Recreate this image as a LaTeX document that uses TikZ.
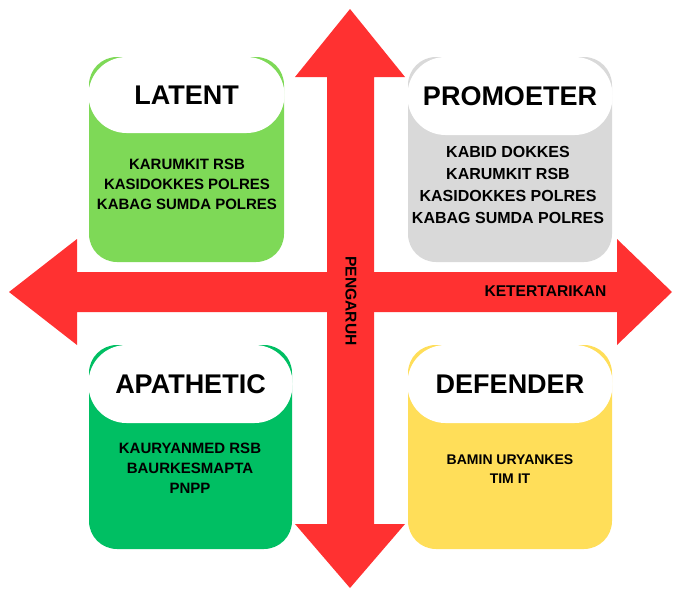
\documentclass[tikz,border=0pt]{standalone}
\usepackage{fontspec}
\setmainfont{Liberation Sans}
\definecolor{arrowred}{HTML}{FF3131}
\definecolor{latentgreen}{HTML}{7ED957}
\definecolor{promogray}{HTML}{D9D9D9}
\definecolor{apathgreen}{HTML}{00BF63}
\definecolor{defyellow}{HTML}{FFDE59}
\tikzset{
  quadbox/.style={rounded corners=28pt, inner sep=0pt, draw=none},
  headbox/.style={fill=white, rounded corners=38pt, inner sep=0pt, draw=none,
    font=\fontsize{27}{30}\selectfont\bfseries},
  bodytext/.style={align=center, inner sep=0pt, font=\fontsize{15}{20}\selectfont\bfseries},
  axislabel/.style={inner sep=0pt, font=\fontsize{15.6}{18}\selectfont\bfseries}
}
\begin{document}
\begin{tikzpicture}[x=1pt, y=-1pt]
\useasboundingbox (0,0) rectangle (673,589);

% double-headed axes
\fill[arrowred] (9,292) -- (77,239) -- (77,272) -- (617,272) -- (617,239)
  -- (672,292) -- (617,345) -- (617,312) -- (77,312) -- (77,345) -- cycle;
\fill[arrowred] (350,9) -- (405,77) -- (374,77) -- (374,524) -- (405,524)
  -- (350,588) -- (295,524) -- (327,524) -- (327,77) -- (295,77) -- cycle;

\node[axislabel] (ketertarikan) at (545.5,291) {KETERTARIKAN};
\node[axislabel, rotate=-90] (pengaruh) at (351,301) {PENGARUH};

% LATENT
\node[quadbox, fill=latentgreen, minimum width=195pt, minimum height=205pt]
  (latent) at (186.5,159.5) {};
\node[headbox, minimum width=196pt, minimum height=76pt] (latenthead) at (186.5,95) {LATENT};
\node[bodytext] (latentbody) at (187,184)
  {KARUMKIT RSB\\KASIDOKKES POLRES\\KABAG SUMDA POLRES};

% PROMOETER
\node[quadbox, fill=promogray, minimum width=204pt, minimum height=205pt]
  (promo) at (510,159.5) {};
\node[headbox, minimum width=205pt, minimum height=78pt] (promohead) at (510,96) {PROMOETER};
\node[bodytext, font=\fontsize{16}{22}\selectfont\bfseries] (promobody) at (508,185)
  {KABID DOKKES\\KARUMKIT RSB\\KASIDOKKES POLRES\\KABAG SUMDA POLRES};

% APATHETIC
\node[quadbox, fill=apathgreen, minimum width=203pt, minimum height=204pt]
  (apath) at (190.5,447) {};
\node[headbox, minimum width=204pt, minimum height=78pt] (apathhead) at (190.5,384) {APATHETIC};
\node[bodytext] (apathbody) at (190,468)
  {KAURYANMED RSB\\BAURKESMAPTA\\PNPP};

% DEFENDER
\node[quadbox, fill=defyellow, minimum width=204pt, minimum height=204pt]
  (defender) at (510,447) {};
\node[headbox, minimum width=205pt, minimum height=78pt] (defhead) at (510,384) {DEFENDER};
\node[bodytext, font=\fontsize{14}{19}\selectfont\bfseries] (defbody) at (510,469.5)
  {BAMIN URYANKES\\TIM IT};
\end{tikzpicture}
\end{document}
